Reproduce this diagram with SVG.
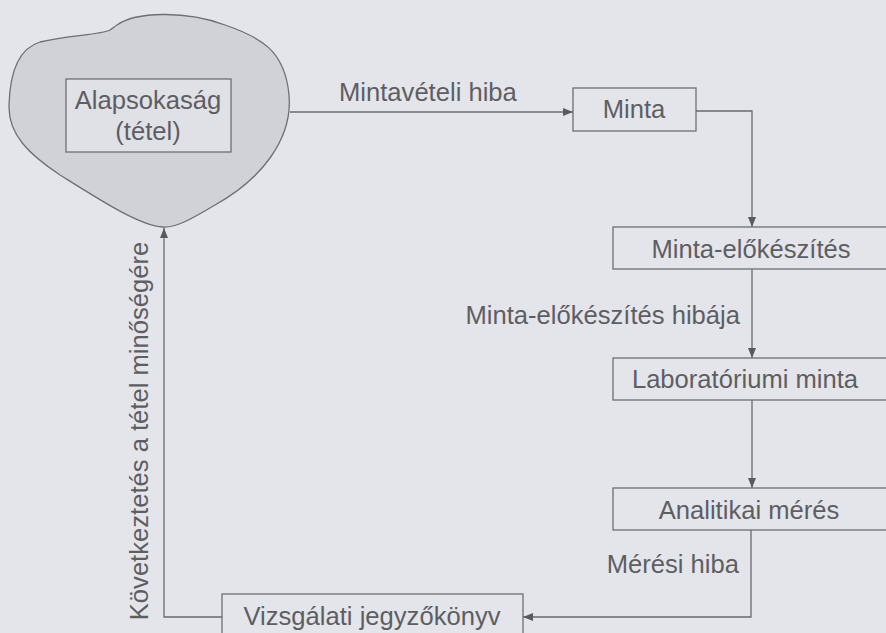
<svg xmlns="http://www.w3.org/2000/svg" width="886" height="633" viewBox="0 0 886 633">
<defs>
<style>
.bg{fill:#e4e5eb}
.box{fill:#e4e5eb;stroke:#6f6f72;stroke-width:1.3}
.t{font-family:"Liberation Sans",Arial,sans-serif;font-size:25.6px;fill:#5e5e62}
.c{text-anchor:middle}
.e{text-anchor:end}
.ln{fill:none;stroke:#6a6a6e;stroke-width:1.3}
</style>
<marker id="ah" viewBox="0 0 10 8" refX="10" refY="4" markerWidth="10" markerHeight="8" markerUnits="userSpaceOnUse" orient="auto">
<path d="M0,0 L10,4 L0,8 Z" fill="#5a5a5e"/>
</marker>
</defs>
<rect class="bg" x="0" y="0" width="886" height="633"/>
<g id="alapsokasag">
<path d="M117,25 C135,12 185,10 225,25 C260,37 285,50 289,95 C293,140 260,180 215,205 C190,220 175,228 163,227 C140,226 100,200 60,175 C30,155 8,135 9,105 C10,70 20,48 40,42 C70,35 100,35 110,30 C113,28 114,27 117,25 Z" fill="#d1d2d8" stroke="#6f6f72" stroke-width="1.3"/>
<rect x="66" y="79" width="165" height="73" fill="#e0e1e7" stroke="#6f6f72" stroke-width="1.3"/>
<text class="t c" x="148" y="109">Alapsokaság</text>
<text class="t c" x="148" y="140">(tétel)</text>
</g>
<g id="minta">
<rect class="box" x="573" y="88" width="123" height="43"/>
<text class="t c" x="634" y="118">Minta</text>
</g>
<g id="minta-elokeszites">
<rect class="box" x="613" y="227" width="280" height="42"/>
<text class="t c" x="751" y="258">Minta-előkészítés</text>
</g>
<g id="laboratoriumi-minta">
<rect class="box" x="613" y="358" width="280" height="42"/>
<text class="t c" x="745" y="388">Laboratóriumi minta</text>
</g>
<g id="analitikai-meres">
<rect class="box" x="613" y="488" width="280" height="42"/>
<text class="t c" x="749" y="519">Analitikai mérés</text>
</g>
<g id="vizsgalati-jegyzokonyv">
<rect class="box" x="222" y="594" width="301" height="50"/>
<text class="t c" x="372" y="625">Vizsgálati jegyzőkönyv</text>
</g>
<g id="connectors">
<path class="ln" d="M290,112 L573,112" marker-end="url(#ah)"/>
<path class="ln" d="M696,111 L752,111 L752,227" marker-end="url(#ah)"/>
<path class="ln" d="M752,269 L752,358" marker-end="url(#ah)"/>
<path class="ln" d="M752,400 L752,488" marker-end="url(#ah)"/>
<path class="ln" d="M751,530 L751,617 L523,617" marker-end="url(#ah)"/>
<path class="ln" d="M222,617 L164,617 L164,228" marker-end="url(#ah)"/>
<text class="t" x="339" y="101">Mintavételi hiba</text>
<text class="t e" x="740" y="324">Minta-előkészítés hibája</text>
<text class="t e" x="739" y="573">Mérési hiba</text>
<text class="t c" transform="translate(148,431) rotate(-90)">Következtetés a tétel minőségére</text>
</g>
</svg>
